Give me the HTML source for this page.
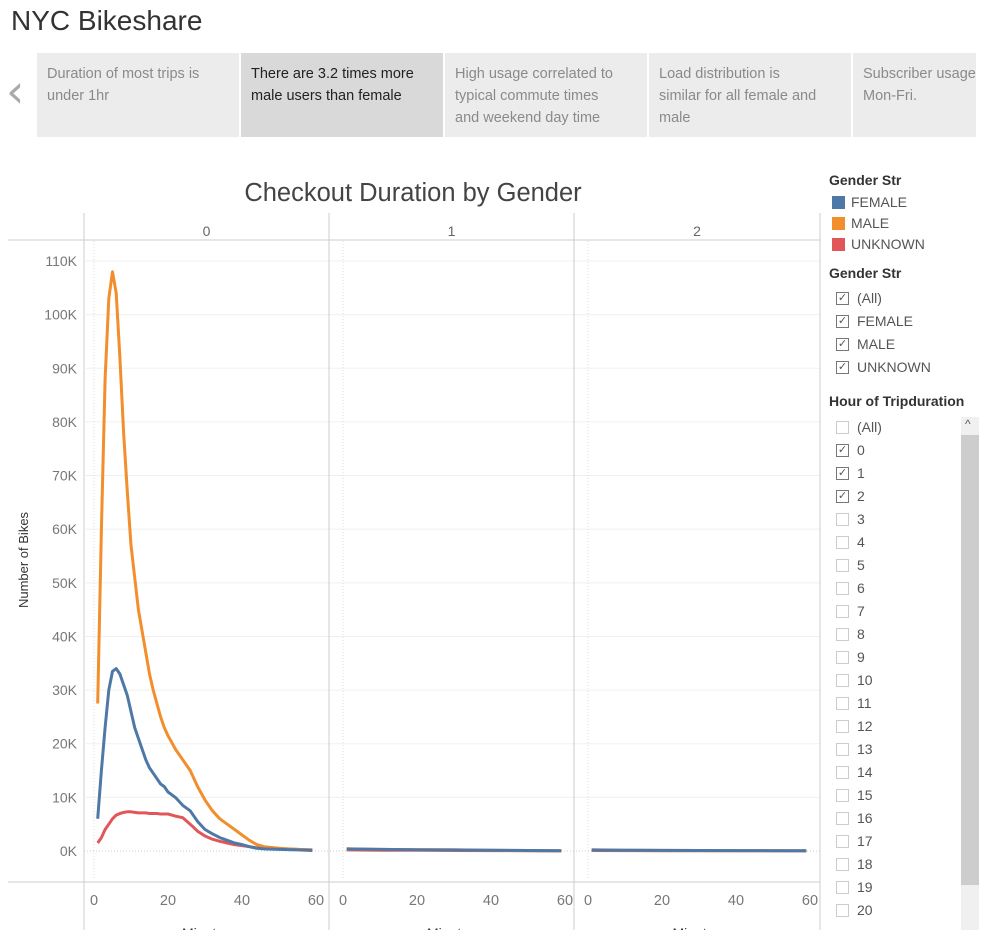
<!DOCTYPE html>
<html><head><meta charset="utf-8"><style>
body{margin:0;width:982px;height:930px;overflow:hidden;background:#fff;font-family:"Liberation Sans",sans-serif;position:relative}
.a{position:absolute}
.tab{position:absolute;top:53px;height:84px;background:#ececec;color:#8a8a8a;font-size:14.5px;line-height:22px;padding:10px 10px;box-sizing:border-box;overflow:hidden;white-space:nowrap}
.lg{position:absolute;left:851px;font-size:14px;color:#555}
.cb{position:absolute;left:836px;width:13px;height:13px;border:1px solid #777;box-sizing:border-box;font-size:11px;line-height:11px;text-align:center;color:#555}
.cl{position:absolute;left:857px;font-size:14px;color:#555}
</style></head><body>
<div class="a" style="left:11px;top:5px;font-size:28px;color:#333">NYC Bikeshare</div>
<div class="a" style="left:6px;top:66px;font-size:46px;color:#aaa;font-family:'DejaVu Sans',sans-serif;line-height:50px">‹</div>
<div class="tab" style="left:37px;width:202px">Duration of most trips is<br>under 1hr</div>
<div class="tab" style="left:241px;width:202px;background:#d9d9d9;color:#222">There are 3.2 times more<br>male users than female</div>
<div class="tab" style="left:445px;width:202px">High usage correlated to<br>typical commute times<br>and weekend day time</div>
<div class="tab" style="left:649px;width:202px">Load distribution is<br>similar for all female and<br>male</div>
<div class="tab" style="left:853px;width:123px">Subscriber usage<br>Mon-Fri.</div>

<svg class="a" style="left:0;top:0" width="982" height="930">
<text x="413" y="201" text-anchor="middle" font-size="25.5" fill="#444" font-family="Liberation Sans">Checkout Duration by Gender</text>
<g id="g"></g>
</svg>

<div>
<div class="a" style="left:829px;top:172px;font-size:14px;font-weight:bold;color:#333">Gender Str</div>
<div class="a" style="left:832px;top:196px;width:13px;height:13px;background:#4e79a7"></div><div class="lg" style="top:194px">FEMALE</div>
<div class="a" style="left:832px;top:217px;width:13px;height:13px;background:#f28e2b"></div><div class="lg" style="top:215px">MALE</div>
<div class="a" style="left:832px;top:238px;width:13px;height:13px;background:#e15759"></div><div class="lg" style="top:236px">UNKNOWN</div>
</div>
<div class="a" style="left:829px;top:265px;font-size:14px;font-weight:bold;color:#333">Gender Str</div>
<div id="f1"></div>
<div class="a" style="left:829px;top:393px;font-size:14px;font-weight:bold;color:#333">Hour of Tripduration</div>
<div class="a" style="left:961px;top:417px;width:18px;height:513px;background:#f0f0f0">
<div style="position:absolute;left:0;top:18px;width:18px;height:450px;background:#cdcdcd"></div>
<div style="position:absolute;left:4px;top:0;font-size:12px;color:#555">^</div></div>
<div id="f2"></div>

<script>
const minutes=[1,2,3,4,5,6,7,8,9,10,11,12,13,14,15,16,17,18,19,20,22,24,26,28,30,32,34,36,38,40,42,44,46,50,55,59];
const male=[27.5,60,88,103,108,104,92,78,67,57,51,45,41,37,33,30,27.5,25,23,21.5,19,17,15,12,9.5,7.5,6,5,4,3,2,1.2,0.8,0.5,0.3,0.2];
const female=[6,15,23,30,33.5,34,33,31,29,26,23,21,19,17,15.5,14.5,13.5,12.5,12,11,10,8.5,7.5,5.5,4,3.2,2.5,2,1.5,1.2,0.8,0.5,0.4,0.3,0.2,0.1];
const unknown=[1.5,2.5,4,5,6,6.7,7,7.2,7.3,7.3,7.2,7.1,7.1,7.1,7.0,7.0,7.0,6.9,6.9,6.9,6.5,6.2,5,3.7,2.8,2.2,1.8,1.5,1.2,1,0.8,0.6,0.5,0.4,0.3,0.2];
const hourMin=[1,10,20,30,40,50,59];
const hour1=[0.4,0.3,0.25,0.2,0.15,0.1,0.05];
const hour2=[0.2,0.15,0.12,0.1,0.08,0.06,0.05];
const yTicks=[0,10,20,30,40,50,60,70,80,90,100,110];
const xTicks=[0,20,40,60];
const panels=["0","1","2"];
const colors={f:"#4e79a7",m:"#f28e2b",u:"#e15759"};
const NS="http://www.w3.org/2000/svg";
const g=document.getElementById('g');
const panelL=[84,329,574],panelR=[329,574,820],x0=[94,343,588];
const xs=(p,v)=>x0[p]+v*222/60;
const ys=v=>851-v*590/110;
function el(t,a,parent){const e=document.createElementNS(NS,t);for(const k in a)e.setAttribute(k,a[k]);(parent||g).appendChild(e);return e;}
let e=el('line',{x1:8,x2:820,y1:240,y2:240,stroke:'#ccc'});
e=el('line',{x1:8,x2:820,y1:882,y2:882,stroke:'#ccc'});
e=el('line',{x1:84,x2:84,y1:213,y2:930,stroke:'#ccc'});
yTicks.forEach(t=>{
 if(t>0){const l=el('line',{x1:84,x2:820,y1:ys(t),y2:ys(t),stroke:'#f0f0f0'});}
 const tx=el('text',{x:77,y:ys(t)+5,'text-anchor':'end','font-size':14,fill:'#777'});tx.textContent=t+'K';
 
});
e=el('line',{x1:84,x2:820,y1:851,y2:851,stroke:'#ccc','stroke-dasharray':'1,2'});
const yt=el('text',{x:28,y:560,'text-anchor':'middle','font-size':13,fill:'#333',transform:'rotate(-90 28 560)'});yt.textContent='Number of Bikes';

panels.forEach((p,i)=>{
 el('line',{x1:panelR[i],x2:panelR[i],y1:213,y2:930,stroke:'#ccc'});
 el('line',{x1:x0[i],x2:x0[i],y1:241,y2:880,stroke:'#ddd','stroke-dasharray':'1,2'});
 const h=el('text',{x:(panelL[i]+panelR[i])/2,y:236,'text-anchor':'middle','font-size':14,fill:'#666'});h.textContent=p;
 
 xTicks.forEach(t=>{const tx=el('text',{x:xs(i,t),y:905,'text-anchor':'middle','font-size':14.5,fill:'#777'});tx.textContent=t;
  });
 const mt=el('text',{x:(panelL[i]+panelR[i])/2,y:938,'text-anchor':'middle','font-size':14,fill:'#333'});mt.textContent='Minutes';
 
});
function line(p,xsArr,vals,c,name){
 const d=vals.map((v,k)=>(k?'L':'M')+xs(p,xsArr[k]).toFixed(1)+','+ys(v).toFixed(1)).join('');
 const l=el('path',{d:d,fill:'none',stroke:c,'stroke-width':3,'stroke-linejoin':'round'});
 
}
line(0,minutes,unknown,colors.u,'unknown-line-hour-0');
line(0,minutes,male,colors.m,'male-line-hour-0');
line(0,minutes,female,colors.f,'female-line-hour-0');
[1,2].forEach(p=>{const arr=p==1?hour1:hour2;
 line(p,hourMin,arr.map(v=>v*0.5),colors.u,'unknown-line-hour-'+p);
 line(p,hourMin,arr,colors.m,'male-line-hour-'+p);
 line(p,hourMin,arr,colors.f,'female-line-hour-'+p);});
function addCheck(container,top,label,checked){
 const b=document.createElement('div');b.className='cb';b.style.top=(top+2)+'px';if(checked)b.textContent='✓';else b.style.borderColor='#ccc';
 
 
 const t=document.createElement('div');t.className='cl';t.style.top=top+'px';t.textContent=label;
 
 
 container.appendChild(b);container.appendChild(t);
}
const f1=document.getElementById('f1');
['(All)','FEMALE','MALE','UNKNOWN'].forEach((s,i)=>addCheck(f1,290+i*23,s,true));
const f2=document.getElementById('f2');
const hours=['(All)'];for(let h=0;h<=20;h++)hours.push(String(h));
hours.forEach((s,i)=>addCheck(f2,419+i*23,s,s=='0'||s=='1'||s=='2'));
</script>
</body></html>
